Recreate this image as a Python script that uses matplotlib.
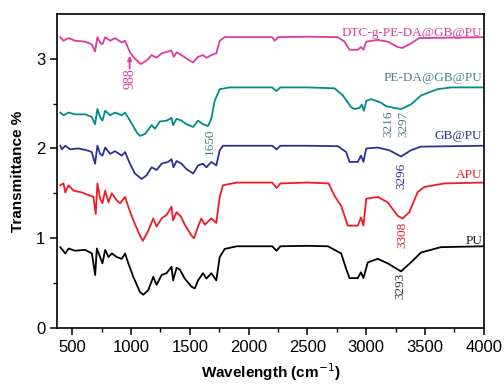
import numpy as np
import matplotlib
matplotlib.use("Agg")
import matplotlib.pyplot as plt

plt.rcParams['font.family'] = ['Liberation Sans', 'DejaVu Sans']

# FTIR spectra (wavenumber, transmittance with vertical offsets)
wn_pu = [398, 441, 469, 525, 610, 667, 695, 709, 737, 757, 780, 808, 836, 879, 921, 949, 977,
         1019, 1076, 1104, 1146, 1189, 1217, 1260, 1302, 1344, 1358, 1387, 1415, 1457, 1514,
         1542, 1570, 1612, 1641, 1683, 1725, 1754, 1796, 1900, 2200, 2237, 2270, 2500, 2674,
         2787, 2829, 2858, 2928, 2956, 2976, 3013, 3098, 3182, 3295, 3380, 3465, 3634, 4000]
t_pu = [0.90, 0.83, 0.885, 0.86, 0.87, 0.83, 0.59, 0.885, 0.79, 0.72, 0.87, 0.79, 0.83, 0.79,
        0.77, 0.83, 0.72, 0.57, 0.40, 0.37, 0.42, 0.57, 0.48, 0.59, 0.61, 0.68, 0.53, 0.67,
        0.65, 0.55, 0.46, 0.44, 0.53, 0.61, 0.55, 0.61, 0.53, 0.79, 0.88, 0.91, 0.91, 0.86,
        0.91, 0.915, 0.91, 0.83, 0.66, 0.555, 0.555, 0.62, 0.555, 0.73, 0.77, 0.72, 0.63,
        0.73, 0.84, 0.90, 0.91]

wn_apu = [398, 426, 441, 469, 511, 582, 638, 680, 700, 714, 737, 757, 780, 808, 836, 879, 907,
          949, 977, 1019, 1076, 1100, 1146, 1189, 1217, 1260, 1302, 1344, 1358, 1387, 1425,
          1457, 1514, 1536, 1570, 1598, 1627, 1683, 1725, 1754, 1782, 1900, 2200, 2237, 2270,
          2500, 2680, 2731, 2787, 2843, 2928, 2956, 2976, 3000, 3098, 3182, 3267, 3308, 3366,
          3436, 3493, 3663, 4000]
t_apu = [1.59, 1.61, 1.51, 1.59, 1.53, 1.51, 1.48, 1.46, 1.27, 1.61, 1.44, 1.39, 1.53, 1.40,
         1.50, 1.42, 1.39, 1.46, 1.35, 1.20, 1.03, 0.97, 1.08, 1.22, 1.13, 1.22, 1.26, 1.35,
         1.20, 1.29, 1.24, 1.15, 1.03, 1.00, 1.13, 1.22, 1.15, 1.22, 1.17, 1.46, 1.59, 1.62,
         1.62, 1.56, 1.61, 1.62, 1.61, 1.47, 1.36, 1.14, 1.14, 1.23, 1.14, 1.44, 1.46, 1.40,
         1.25, 1.22, 1.29, 1.51, 1.57, 1.61, 1.62]

wn_gb = [398, 412, 441, 483, 554, 624, 666, 694, 714, 737, 757, 780, 822, 864, 921, 949, 991,
         1033, 1090, 1132, 1175, 1217, 1260, 1316, 1344, 1361, 1387, 1429, 1471, 1528, 1570,
         1612, 1641, 1683, 1725, 1754, 1782, 1900, 2200, 2237, 2270, 2500, 2759, 2829, 2858,
         2928, 2956, 2976, 3000, 3098, 3196, 3267, 3296, 3380, 3465, 4000]
t_gb = [2.03, 1.99, 2.03, 1.99, 2.00, 1.98, 1.96, 1.83, 2.03, 1.94, 1.92, 2.01, 1.94, 1.97,
        1.92, 1.96, 1.83, 1.72, 1.66, 1.70, 1.79, 1.76, 1.83, 1.85, 1.88, 1.79, 1.86, 1.83,
        1.77, 1.72, 1.81, 1.83, 1.79, 1.85, 1.81, 1.98, 2.03, 2.03, 2.03, 1.99, 2.03, 2.03,
        2.025, 1.96, 1.85, 1.85, 1.92, 1.85, 2.00, 2.01, 1.98, 1.93, 1.91, 1.98, 2.02, 2.03]

wn_peda = [398, 426, 469, 525, 610, 666, 694, 714, 737, 757, 780, 822, 864, 921, 949, 991,
           1048, 1076, 1118, 1175, 1203, 1245, 1302, 1344, 1358, 1387, 1429, 1471, 1528, 1570,
           1612, 1654, 1683, 1711, 1754, 1839, 2200, 2237, 2270, 2500, 2731, 2801, 2872, 2900,
           2942, 2962, 2980, 3000, 3042, 3126, 3168, 3216, 3239, 3297, 3380, 3465, 3606,
           3719, 4000]
t_peda = [2.40, 2.37, 2.40, 2.38, 2.38, 2.35, 2.27, 2.44, 2.35, 2.31, 2.42, 2.37, 2.40, 2.37,
          2.40, 2.31, 2.18, 2.14, 2.16, 2.26, 2.22, 2.30, 2.31, 2.34, 2.26, 2.33, 2.31, 2.27,
          2.24, 2.31, 2.27, 2.25, 2.33, 2.53, 2.66, 2.68, 2.68, 2.64, 2.68, 2.68, 2.67, 2.59,
          2.46, 2.44, 2.45, 2.49, 2.42, 2.53, 2.55, 2.51, 2.47, 2.46, 2.45, 2.44, 2.49, 2.59,
          2.66, 2.68, 2.68]

wn_dtc = [398, 426, 469, 525, 610, 666, 694, 714, 737, 757, 780, 822, 864, 921, 949, 991,
          1033, 1083, 1132, 1175, 1217, 1260, 1316, 1344, 1364, 1387, 1429, 1485, 1528, 1570,
          1612, 1641, 1683, 1725, 1754, 1796, 2025, 2200, 2222, 2250, 2500, 2759, 2815, 2858,
          2928, 2956, 2976, 3000, 3098, 3182, 3267, 3308, 3380, 3450, 4000]
t_dtc = [3.24, 3.20, 3.23, 3.20, 3.19, 3.16, 3.08, 3.24, 3.18, 3.16, 3.24, 3.20, 3.23, 3.18,
         3.20, 3.07, 3.00, 2.94, 2.98, 3.04, 3.01, 3.06, 3.08, 3.09, 3.02, 3.07, 3.04, 2.99,
         2.96, 3.02, 3.04, 3.01, 3.04, 3.06, 3.20, 3.24, 3.24, 3.24, 3.20, 3.24, 3.245, 3.24,
         3.19, 3.10, 3.10, 3.13, 3.10, 3.19, 3.21, 3.19, 3.13, 3.12, 3.17, 3.23, 3.24]

fig, ax = plt.subplots(figsize=(5.04, 3.84), dpi=100)
fig.subplots_adjust(left=0.113, right=0.960, bottom=0.146, top=0.964)

lw = 1.3
ax.plot(wn_pu, t_pu, color='black', lw=lw)
ax.plot(wn_apu, t_apu, color='#ee1c24', lw=lw)
ax.plot(wn_gb, t_gb, color='#2e3192', lw=lw)
ax.plot(wn_peda, t_peda, color='#008a8a', lw=lw)
ax.plot(wn_dtc, t_dtc, color='#dc3c9c', lw=lw)

# sample names
serif = ['Liberation Serif', 'DejaVu Serif']
fs = 9.5
ax.text(3985, 3.29, 'DTC-g-PE-DA@GB@PU', color='#dc3c9c', family=serif, fontsize=fs,
        ha='right', va='center')
ax.text(3985, 2.78, 'PE-DA@GB@PU', color='#4e8080', family=serif, fontsize=fs,
        ha='right', va='center')
ax.text(3985, 2.14, 'GB@PU', color='#2e3192', family=serif, fontsize=fs,
        ha='right', va='center')
ax.text(3985, 1.70, 'APU', color='#ee1c24', family=serif, fontsize=fs,
        ha='right', va='center')
ax.text(3985, 0.97, 'PU', color='#222222', family=serif, fontsize=fs,
        ha='right', va='center')

# peak positions
ax.text(3293, 0.61, '3293', color='#333333', family=serif, fontsize=fs, rotation=90,
        ha='center', va='top')
ax.text(3308, 1.18, '3308', color='#ee1c24', family=serif, fontsize=fs, rotation=90,
        ha='center', va='top')
ax.text(3300, 1.84, '3296', color='#2e3192', family=serif, fontsize=fs, rotation=90,
        ha='center', va='top')
ax.text(3185, 2.42, '3216', color='#4e8080', family=serif, fontsize=fs, rotation=90,
        ha='center', va='top')
ax.text(3318, 2.42, '3297', color='#4e8080', family=serif, fontsize=fs, rotation=90,
        ha='center', va='top')
ax.text(1668, 2.22, '1650', color='#4e8080', family=serif, fontsize=fs, rotation=90,
        ha='center', va='top')
ax.text(988, 2.89, '988', color='#dc3c9c', family=serif, fontsize=10, rotation=90,
        ha='center', va='top')
ax.annotate('', xy=(988, 3.03), xytext=(988, 2.89),
            arrowprops=dict(arrowstyle='-|>', color='#dc3c9c', lw=1.3, mutation_scale=6,
                            shrinkA=0, shrinkB=0))

ax.set_xlim(370, 4000)
ax.set_ylim(0, 3.5)
ax.set_xticks([500, 1000, 1500, 2000, 2500, 3000, 3500, 4000])
ax.set_xticks(np.arange(750, 4000, 500), minor=True)
ax.set_yticks([0, 1, 2, 3])
ax.set_yticks([0.5, 1.5, 2.5], minor=True)
ax.tick_params(labelsize=12, width=1.1, length=5)
ax.tick_params(which='minor', width=1.0, length=3)
for s in ax.spines.values():
    s.set_linewidth(1.2)

ax.set_xlabel('Wavelength (cm$^{-1}$)', fontsize=11, fontweight='bold', labelpad=5)
ax.set_ylabel('Transmittance %', fontsize=11, fontweight='bold', labelpad=8)

plt.savefig('out.png', dpi=100)
